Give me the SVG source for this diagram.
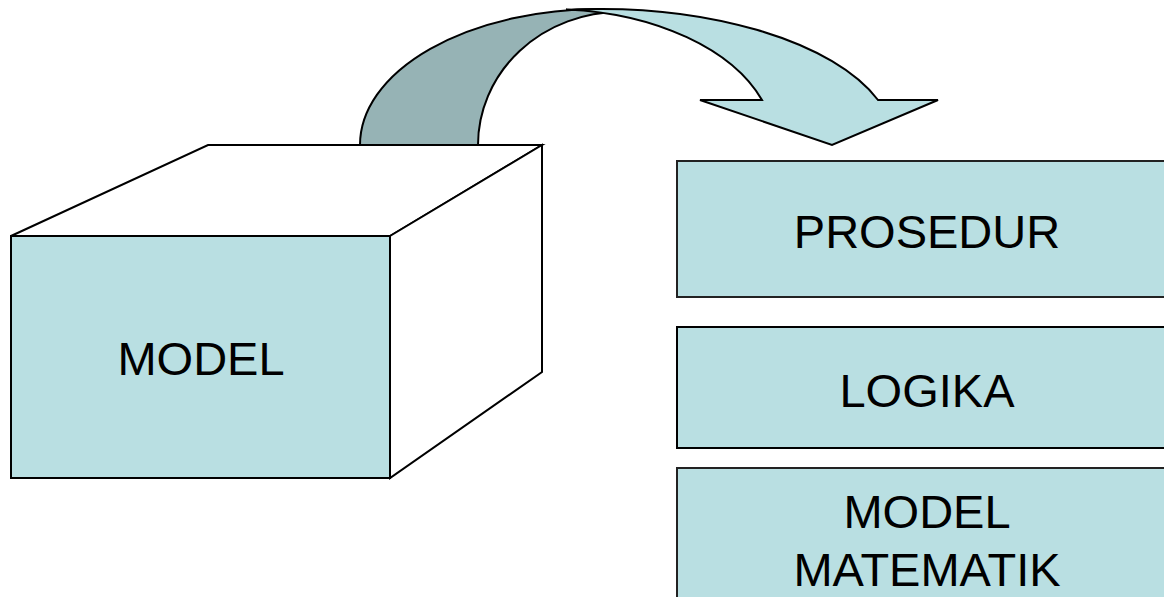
<svg xmlns="http://www.w3.org/2000/svg" width="1164" height="597" viewBox="0 0 1164 597">
<style>
.ln{stroke:#000;stroke-width:2;stroke-linejoin:miter}
.lt{fill:#b9dfe2}
.dk{fill:#96b3b5}
.wh{fill:#fff}
.tx{font-family:"Liberation Sans",Arial,sans-serif;font-size:47px;fill:#000;text-anchor:middle}
</style>
<rect width="1164" height="597" fill="#fff"/>
<g id="connectors">
<path class="dk ln" d="M360,145 A240,136 0 0 1 600,9 L620,12 A142,133 0 0 0 478,145 Z"/>
<path class="lt ln" d="M567,9.8 A294.6,136 0 0 1 878,100 L938,100 L832,145 L700,100 L762,100 A224.7,136 0 0 0 567,9.4 Z"/>
</g>
<g id="model">
<polygon class="wh ln" points="11,236 208,145 542,145 390,236"/>
<polygon class="wh ln" points="390,236 542,145 542,372 390,478"/>
<rect class="lt ln" x="11" y="236" width="379" height="242"/>
<text class="tx" x="201" y="375">MODEL</text>
</g>
<g id="prosedur">
<rect class="lt" x="677" y="161" width="500" height="136" stroke="#222" stroke-width="2"/>
<text class="tx" x="927" y="248">PROSEDUR</text>
</g>
<g id="logika">
<rect class="lt" x="677" y="327" width="500" height="121" stroke="#000" stroke-width="2"/>
<text class="tx" x="927" y="407">LOGIKA</text>
</g>
<g id="model-matematik">
<rect class="lt" x="677" y="468" width="500" height="140" stroke="#222" stroke-width="2"/>
<text class="tx" x="927" y="528">MODEL</text>
<text class="tx" x="927" y="586">MATEMATIK</text>
</g>
</svg>
